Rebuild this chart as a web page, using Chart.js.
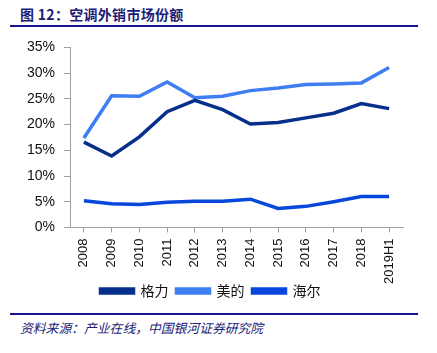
<!DOCTYPE html>
<html>
<head>
<meta charset="utf-8">
<script src="https://cdn.jsdelivr.net/npm/chart.js@4.4.0/dist/chart.umd.min.js"></script>
<style>
  html, body { margin: 0; padding: 0; background: #fff; }
  body { width: 437px; height: 353px; position: relative; overflow: hidden; }
  #title {
    position: absolute; left: 20px; top: 4px;
    font: bold 14px "Noto Sans CJK SC", sans-serif; color: #1c1c78; letter-spacing: 0.3px;
  }
  .rule { position: absolute; left: 10px; width: 408px; height: 2px; background: #1a148c; }
  #wrap { position: absolute; left: 0; top: 30px; width: 437px; height: 278px; }
  #source {
    position: absolute; left: 20px; top: 318px;
    font: italic 12.8px "Noto Sans CJK SC", sans-serif; color: #1c1c78;
  }
</style>
</head>
<body>
<div id="title">图 12：空调外销市场份额</div>
<div class="rule" style="top:25px"></div>
<div id="wrap"><canvas id="c"></canvas></div>
<div class="rule" style="top:313px"></div>
<div id="source">资料来源：产业在线，中国银河证券研究院</div>
<script>
// 年份
var years = ['2008', '2009', '2010', '2011', '2012', '2013', '2014', '2015', '2016', '2017', '2018', '2019H1'];
// 市场份额 (%)
var gree  = [16.6, 13.9, 17.6, 22.5, 24.7, 22.9, 20.1, 20.4, 21.3, 22.2, 24.1, 23.1];
var midea = [17.4, 25.6, 25.5, 28.3, 25.2, 25.5, 26.6, 27.1, 27.8, 27.9, 28.1, 31.1];
var haier = [5.2, 4.6, 4.45, 4.9, 5.1, 5.1, 5.5, 3.7, 4.1, 5.0, 6.0, 6.0];

var colGree = '#062f8c';
var colMidea = '#3e7ef2';
var colHaier = '#0847dc';

var X_SQUEEZE = 14;

function ds(label, data, color) {
  return {
    label: label, data: data, borderColor: color, backgroundColor: color,
    borderWidth: 3.5, pointRadius: 0, tension: 0, fill: false
  };
}

// the x scale is squeezed so 2019H1 runs down beside the legend;
// give its label clip box the room back after layout
var unclipX = {
  id: 'unclipX',
  afterLayout: function (chart) { chart.scales.x.bottom += X_SQUEEZE; }
};

var axisFont = { family: '"Liberation Sans", Arial, sans-serif', size: 13 };

new Chart(document.getElementById('c').getContext('2d'), {
  type: 'line',
  data: {
    labels: years,
    datasets: [ds('格力', gree, colGree), ds('美的', midea, colMidea), ds('海尔', haier, colHaier)]
  },
  plugins: [unclipX],
  options: {
    responsive: true,
    maintainAspectRatio: false,
    animation: false,
    layout: { padding: { left: 18, right: 34, top: 7, bottom: 0 } },
    plugins: {
      tooltip: { enabled: false },
      legend: {
        position: 'bottom',
        labels: {
          boxWidth: 33, boxHeight: 4, padding: 8, color: '#111',
          font: { family: '"Noto Sans CJK SC", sans-serif', size: 14 }
        }
      }
    },
    scales: {
      x: {
        offset: true,
        grid: { display: true, drawOnChartArea: false, tickLength: 5, color: '#a0a0a0' },
        border: { color: '#a0a0a0' },
        ticks: { color: '#111', font: axisFont, minRotation: 90, maxRotation: 90, padding: 6 },
        afterFit: function (scale) { scale.height -= X_SQUEEZE; }
      },
      y: {
        min: 0, max: 35,
        grid: { display: true, drawOnChartArea: false, tickLength: 6, color: '#a0a0a0' },
        border: { color: '#a0a0a0' },
        ticks: {
          stepSize: 5, color: '#111', font: { family: '"Liberation Sans", Arial, sans-serif', size: 14 }, padding: 9,
          callback: function (v) { return v + '%'; }
        }
      }
    }
  }
});
</script>
</body>
</html>
